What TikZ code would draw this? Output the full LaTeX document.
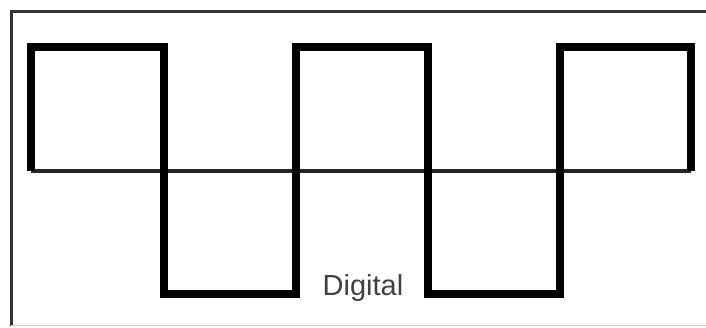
\documentclass[tikz,border=0pt]{standalone}
\usepackage{fontspec}
\setmainfont{Liberation Sans}
\usetikzlibrary{positioning}

\begin{document}
\begin{tikzpicture}[
  x=1pt, y=-1pt,
  frame/.style={draw=black!80, line width=3pt},
  axis/.style={draw=black!85, line width=3.2pt},
  wave/.style={draw=black, line width=8.5pt, line join=miter},
  lab/.style={font=\fontsize{29}{31}\selectfont, text=black!75, anchor=base}
]
\useasboundingbox (0,0) rectangle (706,327);
\draw[frame] (707,11) -- (11,11) -- (11,326);
\draw[draw=black!20, line width=1.2pt] (11,325.5) -- (707,325.5);
\draw[axis] (31,171) -- (691,171);
\draw[wave] (31,171) -- (31,47) -- (164,47) -- (164,294) -- (296,294)
  -- (296,47) -- (428,47) -- (428,294) -- (560,294) -- (560,47)
  -- (691,47) -- (691,171);
\node[lab] (digital) at (363,295) {Digital};
\end{tikzpicture}
\end{document}
